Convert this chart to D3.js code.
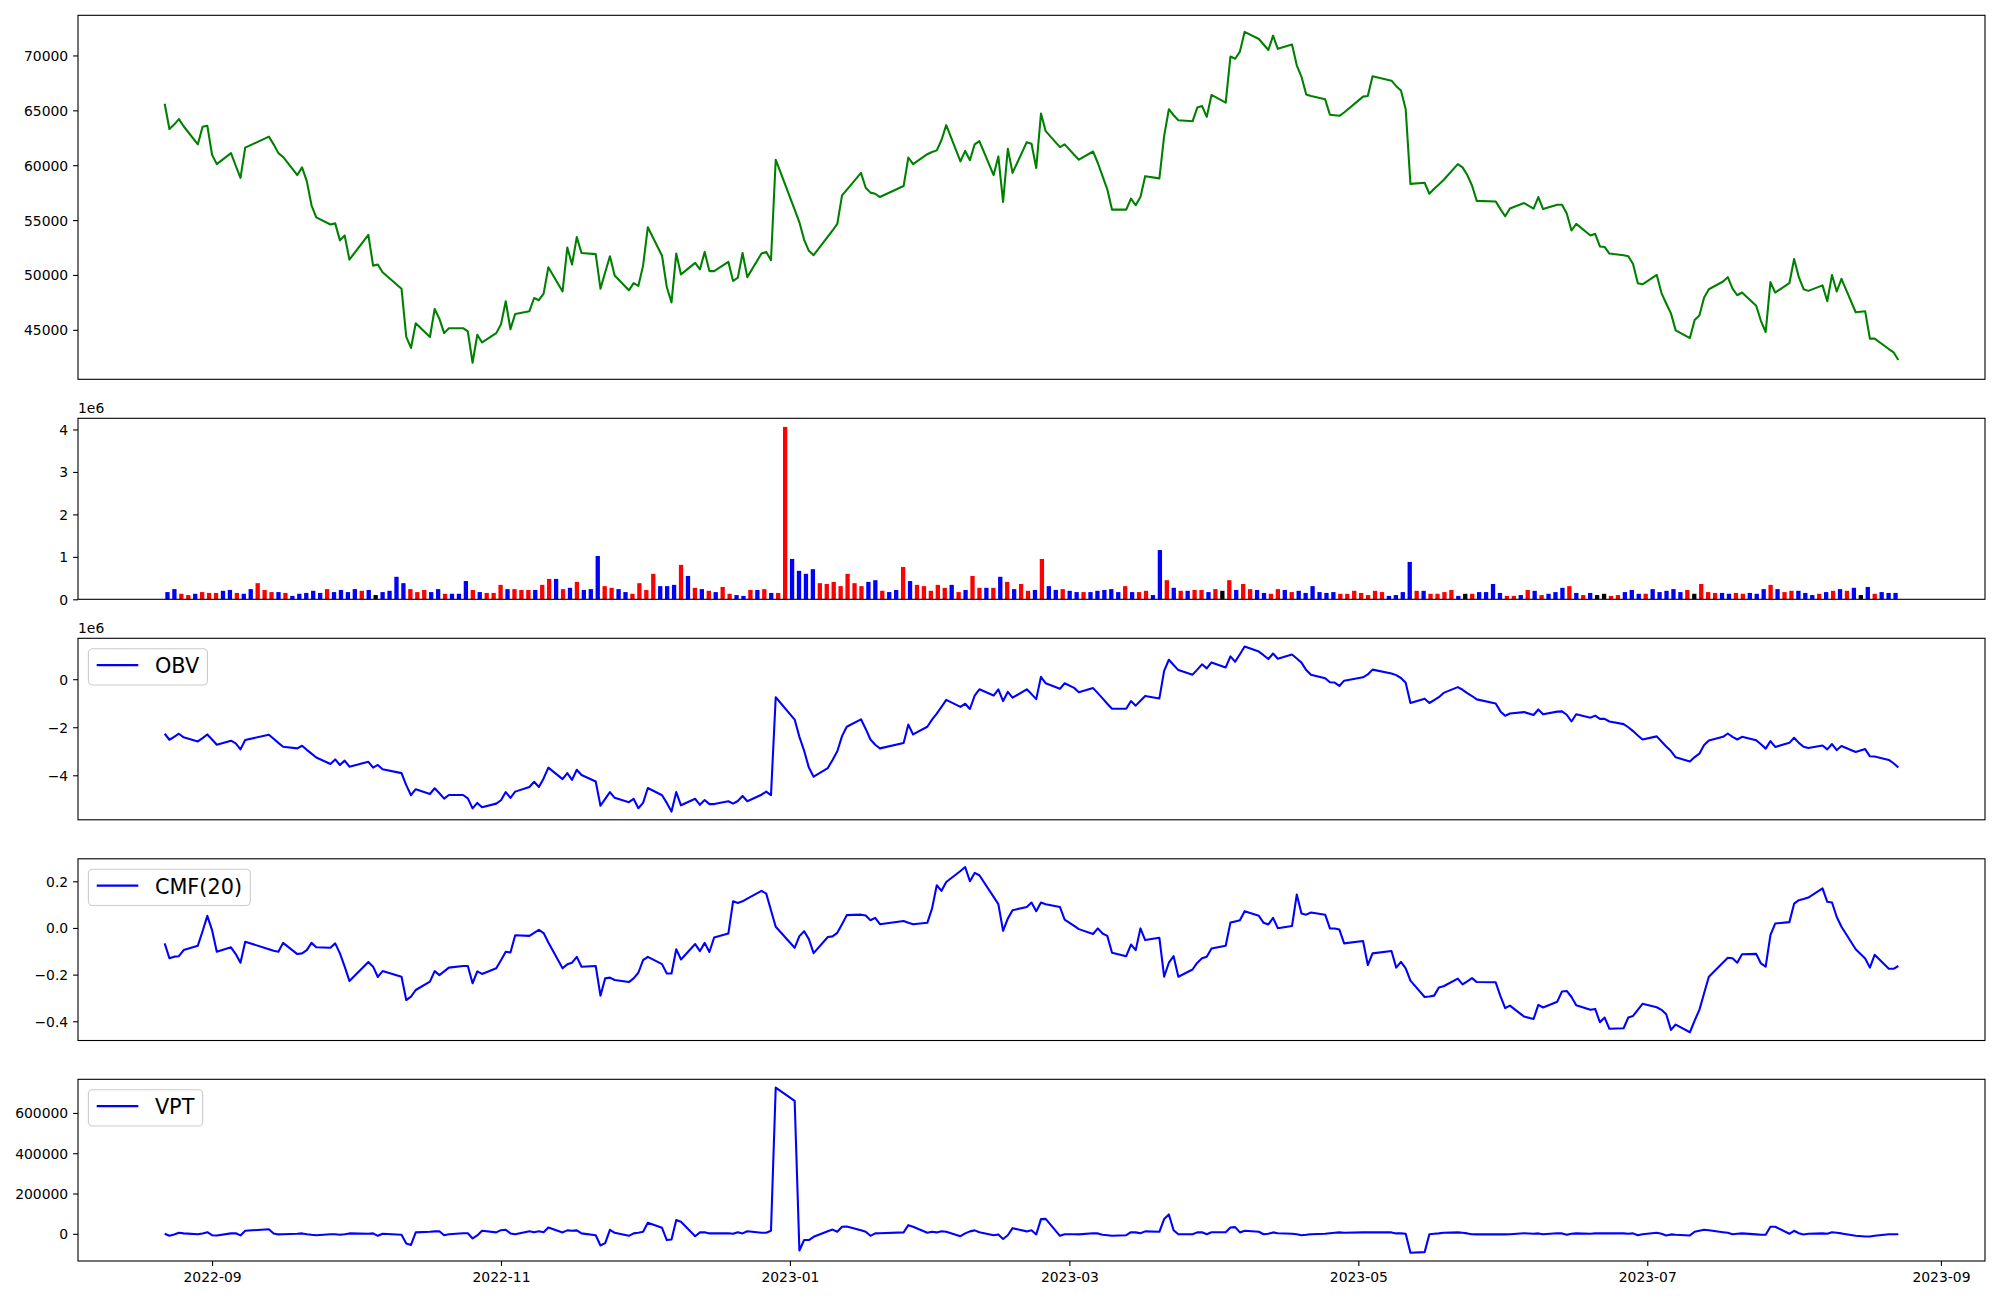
<!DOCTYPE html>
<html><head><meta charset="utf-8">
<script src="https://cdn.jsdelivr.net/npm/d3@7/dist/d3.min.js"></script>
<style>
html,body{margin:0;padding:0;background:#fff}
svg text{font-family:"DejaVu Sans",sans-serif;fill:#000}
</style>
</head><body>
<svg id="chart" width="2000" height="1300"></svg>
<script>
// ---------- DATA ----------
const tradingDays = [
 ["2022-08",[22,23,24,25,26,29,30,31]],
 ["2022-09",[1,2,5,6,7,8,13,14,15,16,19,20,21,22,23,26,27,28,29,30]],
 ["2022-10",[4,5,6,7,11,12,13,14,17,18,19,20,21,24,25,26,27,28,31]],
 ["2022-11",[1,2,3,4,7,8,9,10,11,14,15,16,17,18,21,22,23,24,25,28,29,30]],
 ["2022-12",[1,2,5,6,7,8,9,12,13,14,15,16,19,20,21,22,23,26,27,28,29]],
 ["2023-01",[2,3,4,5,6,9,10,11,12,13,16,17,18,19,20,25,26,27,30,31]],
 ["2023-02",[1,2,3,6,7,8,9,10,13,14,15,16,17,20,21,22,23,24,27,28]],
 ["2023-03",[2,3,6,7,8,9,10,13,14,15,16,17,20,21,22,23,24,27,28,29,30,31]],
 ["2023-04",[3,4,5,6,7,10,11,12,13,14,17,18,19,20,21,24,25,26,27,28]],
 ["2023-05",[2,3,4,8,9,10,11,12,15,16,17,18,19,22,23,24,25,26,30,31]],
 ["2023-06",[1,2,5,7,8,9,12,13,14,15,16,19,20,21,22,23,26,27,28,29,30]],
 ["2023-07",[3,4,5,6,7,10,11,12,13,14,17,18,19,20,21,24,25,26,27,28,31]],
 ["2023-08",[1,2,3,4,7,8,9,10,11,14,16,17,18,21,22,23]]
];

const closePrice = [
 65600,63300,63700,64200,63550,61900,63500,63600,60950,60100,
 61100,59950,58850,61600,62600,61900,61100,60750,59100,59800,
 58550,56350,55250,54600,54700,53150,53600,51400,53650,50850,
 50950,50250,48750,44350,43350,45600,44350,46900,46000,44700,
 45150,45150,44850,42000,44550,43850,44700,45500,47600,45050,
 46450,46700,47900,47700,48300,50700,48500,52500,50950,53450,
 52000,51900,48750,50250,51700,49950,48600,49250,49000,50850,
 54350,51750,48900,47500,51950,50050,51100,50500,52100,50350,
 50350,51200,49450,49750,52000,49800,51950,52100,51350,60500,
 55950,54800,53200,52200,51800,53500,54050,54650,57250,57750,
 59300,57950,57500,57400,57100,58100,60700,60100,61000,61200,
 61350,62300,63650,60350,61300,60450,61900,62200,59100,60800,
 56650,61500,59300,62100,61950,59750,64700,63100,61650,61900,
 60950,60500,61250,60200,59000,57800,55950,55950,56950,56350,
 57100,59000,58800,62650,65100,64550,64100,64000,65250,65400,
 64400,66400,65700,69900,69700,70350,72150,71500,71000,70500,
 71800,70600,71000,69100,68050,66450,66300,66000,64600,64550,
 64500,64800,66250,66300,68100,67700,67200,66800,65100,58300,
 58400,57400,57850,58250,58650,60100,59800,59100,58150,56750,
 56700,56000,55350,56050,56550,56050,57100,56000,56400,56400,
 55600,54050,54650,53600,53750,52600,52550,51950,51800,51700,
 51000,49250,49150,50000,48350,47400,46500,44950,44250,45900,
 46300,47950,48700,49400,49800,48750,48150,48400,47200,45800,
 44800,49350,48400,49250,51450,49800,48700,48550,49050,47600,
 50000,48500,49650,46600,46700,44200,44200,43250,42950,42250
];

// volume in millions of shares (axis offset 1e6)
const volumeMillions = [
 .17,.24,.13,.10,.13,.17,.15,.15,.20,.22,
 .15,.13,.24,.38,.22,.17,.17,.15,.08,.13,
 .15,.20,.15,.24,.17,.22,.17,.24,.20,.22,
 .10,.17,.20,.53,.38,.24,.17,.22,.17,.24,
 .13,.13,.13,.43,.22,.17,.15,.15,.34,.24,
 .24,.22,.22,.22,.34,.48,.48,.24,.27,.41,
 .22,.24,1.02,.31,.27,.24,.17,.13,.38,.22,
 .60,.31,.31,.34,.81,.55,.27,.24,.20,.17,
 .29,.13,.10,.08,.22,.22,.24,.15,.15,4.06,
 .95,.67,.60,.71,.38,.36,.41,.31,.60,.38,
 .31,.41,.45,.20,.17,.22,.76,.43,.34,.31,
 .20,.34,.27,.34,.17,.22,.55,.27,.27,.27,
 .53,.41,.24,.36,.20,.22,.95,.31,.22,.24,
 .20,.17,.17,.17,.20,.22,.24,.17,.31,.17,
 .17,.20,.10,1.16,.45,.27,.20,.20,.22,.22,
 .17,.24,.20,.45,.22,.36,.24,.22,.15,.13,
 .24,.22,.17,.20,.15,.31,.17,.15,.17,.13,
 .13,.20,.15,.10,.20,.17,.08,.10,.17,.88,
 .20,.20,.13,.13,.17,.22,.08,.13,.13,.17,
 .17,.36,.15,.08,.08,.10,.22,.20,.10,.13,
 .17,.27,.31,.15,.10,.15,.10,.13,.08,.10,
 .17,.22,.13,.13,.24,.17,.20,.24,.17,.22,
 .13,.36,.17,.15,.15,.13,.15,.13,.15,.13,
 .24,.34,.24,.17,.20,.20,.15,.10,.13,.17,
 .20,.24,.20,.27,.10,.29,.13,.17,.15,.15
];

// bar colour per day: r = red, b = blue, k = black
const volumeColorCodes =
 "bbrrbrrrbb"+"rbbrrrbrbb"+"bbbrbbbbrb"+"kbbbbrrrbb"+"rbbbrbrrrb"+
 "rrrbrrbrbr"+"bbbrrbbrrr"+"rbbbrbrbrb"+"rrbbrbrbrr"+"bbbbrrrrrr"+
 "rbbrbbrbrr"+"rrrbrbrrbr"+"brbrrbrbbr"+"bbrbbbbbrb"+"rrbbrbrbrr"+
 "brkrbrrbbr"+"rbrbbbbbbr"+"rrrrrrbbbb"+"rbrrrrbkrb"+"bbbrrbrbrb"+
 "bbrbrbkkrr"+"bbbrbbbbbr"+"krrrbbrrbb"+"brbrrbbbrb"+"rbrbkbrbbb";

// OBV in millions (axis offset 1e6)
const obvMillions = [
 -2.27,-2.52,-2.40,-2.27,-2.42,-2.59,-2.45,-2.30,-2.51,-2.73,
 -2.56,-2.67,-2.92,-2.53,-2.31,-2.48,-2.65,-2.81,-2.88,-2.77,
 -2.94,-3.10,-3.26,-3.53,-3.34,-3.57,-3.39,-3.64,-3.44,-3.68,
 -3.57,-3.75,-3.91,-4.41,-4.83,-4.58,-4.78,-4.54,-4.75,-4.97,
 -4.82,-4.82,-4.96,-5.38,-5.15,-5.33,-5.18,-5.04,-4.70,-4.94,
 -4.68,-4.49,-4.27,-4.49,-4.13,-3.68,-4.16,-3.91,-4.19,-3.77,
 -3.99,-4.26,-5.27,-4.98,-4.70,-4.94,-5.12,-4.98,-5.37,-5.15,
 -4.53,-4.83,-5.15,-5.51,-4.70,-5.25,-4.98,-5.23,-5.03,-5.20,
 -5.20,-5.08,-5.18,-5.07,-4.86,-5.08,-4.81,-4.68,-4.83,-0.75,
 -1.68,-2.40,-2.98,-3.68,-4.06,-3.70,-3.36,-3.00,-2.37,-1.98,
 -1.67,-2.07,-2.51,-2.73,-2.88,-2.66,-1.89,-2.30,-1.98,-1.68,
 -1.43,-1.15,-0.86,-1.15,-1.02,-1.24,-0.68,-0.42,-0.68,-0.42,
 -0.91,-0.53,-0.77,-0.42,-0.62,-0.83,0.10,-0.17,-0.40,-0.17,
 -0.36,-0.54,-0.37,-0.58,-0.80,-1.02,-1.23,-1.23,-0.91,-1.10,
 -0.90,-0.70,-0.80,0.35,0.81,0.59,0.38,0.19,0.40,0.62,
 0.45,0.70,0.49,0.95,0.73,1.04,1.36,1.15,1.00,0.84,
 1.07,0.85,1.03,0.86,0.69,0.38,0.19,0.04,-0.13,-0.14,
 -0.28,-0.06,0.08,0.20,0.40,0.24,0.17,0.05,-0.15,-0.99,
 -0.81,-0.99,-0.87,-0.75,-0.57,-0.33,-0.44,-0.58,-0.70,-0.84,
 -1.01,-1.34,-1.52,-1.43,-1.37,-1.49,-1.26,-1.46,-1.35,-1.34,
 -1.48,-1.76,-1.46,-1.60,-1.52,-1.65,-1.65,-1.76,-1.87,-2.00,
 -2.16,-2.34,-2.51,-2.38,-2.59,-2.80,-2.99,-3.25,-3.43,-3.24,
 -3.10,-2.74,-2.55,-2.40,-2.26,-2.40,-2.51,-2.40,-2.54,-2.71,
 -2.89,-2.58,-2.82,-2.65,-2.44,-2.65,-2.81,-2.86,-2.76,-2.92,
 -2.70,-2.95,-2.78,-3.03,-2.91,-3.21,-3.22,-3.36,-3.50,-3.68
];

const cmf20 = [
 -0.066,-0.130,-0.123,-0.121,-0.095,-0.076,-0.014,0.052,-0.009,-0.102,
 -0.083,-0.112,-0.149,-0.059,-0.091,-0.098,-0.102,-0.064,-0.112,-0.109,
 -0.095,-0.064,-0.083,-0.085,-0.066,-0.109,-0.166,-0.227,-0.146,-0.166,
 -0.210,-0.185,-0.209,-0.309,-0.294,-0.266,-0.230,-0.185,-0.202,-0.186,
 -0.170,-0.163,-0.163,-0.237,-0.186,-0.197,-0.173,-0.138,-0.102,-0.105,
 -0.031,-0.034,-0.021,-0.008,-0.022,-0.062,-0.173,-0.156,-0.149,-0.124,
 -0.166,-0.163,-0.290,-0.216,-0.213,-0.223,-0.232,-0.216,-0.192,-0.138,
 -0.124,-0.155,-0.195,-0.195,-0.091,-0.135,-0.069,-0.099,-0.064,-0.103,
 -0.041,-0.024,0.114,0.107,0.114,0.126,0.159,0.147,0.076,0.005,
 -0.085,-0.035,-0.014,-0.048,-0.108,-0.039,-0.036,-0.021,0.016,0.055,
 0.057,0.053,0.033,0.043,0.016,0.030,0.022,0.016,0.022,0.083,
 0.183,0.159,0.197,0.244,0.261,0.200,0.236,0.226,0.133,0.102,
 -0.012,0.040,0.076,0.090,0.109,0.072,0.109,0.102,0.090,0.036,
 0.009,-0.005,-0.026,-0.002,-0.024,-0.034,-0.106,-0.121,-0.071,-0.095,
 -0.002,-0.052,-0.042,-0.209,-0.149,-0.121,-0.209,-0.178,-0.149,-0.130,
 -0.123,-0.088,-0.076,0.023,0.028,0.033,0.072,0.052,0.022,0.015,
 0.043,-0.001,0.008,0.143,0.062,0.057,0.066,0.057,-0.002,-0.002,
 -0.007,-0.066,-0.056,-0.159,-0.109,-0.099,-0.170,-0.145,-0.173,-0.226,
 -0.296,-0.294,-0.290,-0.255,-0.250,-0.217,-0.242,-0.229,-0.215,-0.232,
 -0.233,-0.292,-0.344,-0.333,-0.380,-0.390,-0.330,-0.341,-0.316,-0.272,
 -0.270,-0.296,-0.331,-0.351,-0.347,-0.404,-0.384,-0.432,-0.430,-0.384,
 -0.377,-0.351,-0.325,-0.340,-0.351,-0.370,-0.437,-0.414,-0.447,-0.397,
 -0.351,-0.280,-0.209,-0.148,-0.128,-0.130,-0.149,-0.113,-0.111,-0.152,
 -0.166,-0.031,0.019,0.025,0.104,0.119,0.124,0.130,0.170,0.112,
 0.109,0.047,0.005,-0.091,-0.131,-0.170,-0.115,-0.175,-0.175,-0.163
];

// VPT in thousands
const vptThousands = [
 0,-10,-3,5,2,-2,2,8,-7,-8,
 2,3,-8,15,23,2,-3,-2,0,2,
 -2,-5,-7,-2,-2,-5,-2,2,0,2,
 -10,0,-5,-48,-55,7,10,12,13,-7,
 -2,3,3,-23,-8,15,7,18,20,2,
 -2,13,8,13,8,31,7,17,15,17,
 2,-7,-58,-46,20,5,-10,2,5,10,
 55,30,-31,-28,68,60,-12,7,8,2,
 2,3,0,8,2,13,5,5,15,726,
 660,-83,-31,-31,-15,13,21,10,35,36,
 18,10,-10,2,3,7,43,35,5,10,
 7,13,10,-12,2,12,17,8,-7,-3,
 -26,-7,28,12,18,-3,73,74,-10,-2,
 -2,-3,3,2,-5,-7,-10,-7,8,7,
 3,12,10,73,96,18,-2,-2,7,8,
 -2,8,8,31,33,7,15,10,-2,0,
 7,3,0,-2,-7,-5,-2,0,3,5,
 7,5,7,7,8,7,2,2,0,-94,
 -91,-2,0,2,5,7,5,2,-2,-3,
 -3,-2,-3,-2,3,0,2,-2,3,2,
 -5,0,2,0,2,2,2,2,2,0,
 2,-7,-2,5,0,-8,-3,-5,-8,10,
 15,20,18,8,5,-2,0,2,-3,-5,
 -5,35,35,0,15,3,-3,0,2,0,
 8,5,2,-10,-13,-13,-10,-2,-2,-2
];

const priceTicks = [45000,50000,55000,60000,65000,70000];
const volumeTicks = [0,1,2,3,4];
const obvTicks = [-4,-2,0];
const cmfTicks = [-0.4,-0.2,0.0,0.2];
const vptTicks = [0,200000,400000,600000];
const dateTickLabels = ["2022-09","2022-11","2023-01","2023-03","2023-05","2023-07","2023-09"];
const legendLabels = ["OBV","CMF(20)","VPT"];

// ---------- LAYOUT ----------
const L = 78, R = 1985;
const panels = [[15.3,379.3],[418.3,599.3],[638.3,819.8],[858.8,1040.5],[1079.3,1261]];
const TICK = 4.9, PAD = 4.9, FS = 13.9, LW = 2.08;
const colorMap = {r:"#ff0000", b:"#0000ff", k:"#000000"};

const dates = [];
tradingDays.forEach(([ym, days]) => {
  const [y, m] = ym.split("-").map(Number);
  days.forEach(d => dates.push(new Date(Date.UTC(y, m - 1, d))));
});
const N = dates.length;

const svg = d3.select("#chart");

const t0 = +dates[0], t1 = +dates[N - 1], span = t1 - t0;
const x = d3.scaleUtc().domain([new Date(t0 - 0.05 * span), new Date(t1 + 0.05 * span)]).range([L, R]);

function padded(vals) {
  const [a, b] = d3.extent(vals); const p = (b - a) * 0.05; return [a - p, b + p];
}
const minusFmt = s => String(s).replace("-", "\u2212");

function yAxis(scale, ticks, fmt) {
  const g = svg.append("g").attr("transform", `translate(${L},0)`)
    .call(d3.axisLeft(scale).tickValues(ticks).tickSize(TICK).tickPadding(PAD).tickFormat(fmt));
  g.select(".domain").remove();
  g.selectAll(".tick line").attr("stroke", "#000").attr("stroke-width", 1.1);
  g.selectAll(".tick text").attr("font-family", "DejaVu Sans").attr("font-size", FS).attr("dy", "0.36em").attr("fill", "#000");
  g.attr("font-family", null).attr("font-size", null);
}
function frame(p) {
  svg.append("rect").attr("x", L).attr("y", p[0]).attr("width", R - L).attr("height", p[1] - p[0])
    .attr("fill", "none").attr("stroke", "#000").attr("stroke-width", 1.1);
}
function offsetText(p) {
  svg.append("text").attr("x", L).attr("y", p[0] - 5.6).attr("font-size", FS).text("1e6");
}
function legend(p, label) {
  const fs = 20.8, bp = 8.3, hl = 41.6, htp = 16.6;
  const bx = L + 10.4, by = p[0] + 10.4;
  const g = svg.append("g");
  const rect = g.append("rect").attr("x", bx).attr("y", by).attr("height", 36.3).attr("rx", 4.2).attr("ry", 4.2)
    .attr("fill", "#fff").attr("fill-opacity", 0.8).attr("stroke", "#cccccc").attr("stroke-width", 1.1);
  g.append("line").attr("x1", bx + bp).attr("x2", bx + bp + hl).attr("y1", by + 16.4).attr("y2", by + 16.4)
    .attr("stroke", "#0000ff").attr("stroke-width", LW);
  const t = g.append("text").attr("x", bx + bp + hl + htp).attr("y", by + 24.6).attr("font-size", fs).text(label);
  const tw = t.node().getComputedTextLength();
  rect.attr("width", bp + hl + htp + tw + bp);
}
function drawLine(p, vals, scale, color) {
  const line = d3.line().x((d, i) => x(dates[i])).y(d => scale(d));
  svg.append("path").datum(vals).attr("d", line).attr("fill", "none").attr("stroke", color)
    .attr("stroke-width", LW).attr("stroke-linejoin", "round");
}

// Panel 1: price
const yP = d3.scaleLinear().domain(padded(closePrice)).range([panels[0][1], panels[0][0]]);
drawLine(panels[0], closePrice, yP, "#008000");
yAxis(yP, priceTicks, d => d);
frame(panels[0]);

// Panel 2: volume bars (by day index)
const bw = 0.62;
const xi = d3.scaleLinear()
  .domain([-0.4 - 0.05 * (N - 1 + 0.8), N - 1 + 0.4 + 0.05 * (N - 1 + 0.8)]).range([L, R]);
const yV = d3.scaleLinear().domain([0, d3.max(volumeMillions) * 1.05]).range([panels[1][1], panels[1][0]]);
svg.append("g").selectAll("rect").data(volumeMillions).join("rect")
  .attr("x", (d, i) => xi(i - bw / 2)).attr("width", xi(bw) - xi(0))
  .attr("y", d => yV(d)).attr("height", d => yV(0) - yV(d))
  .attr("fill", (d, i) => colorMap[volumeColorCodes[i]]);
yAxis(yV, volumeTicks, d => d);
frame(panels[1]);
offsetText(panels[1]);

// Panel 3: OBV
const yO = d3.scaleLinear().domain(padded(obvMillions)).range([panels[2][1], panels[2][0]]);
drawLine(panels[2], obvMillions, yO, "#0000ff");
yAxis(yO, obvTicks, d => minusFmt(d));
frame(panels[2]);
offsetText(panels[2]);
legend(panels[2], legendLabels[0]);

// Panel 4: CMF
const yC = d3.scaleLinear().domain(padded(cmf20)).range([panels[3][1], panels[3][0]]);
drawLine(panels[3], cmf20, yC, "#0000ff");
yAxis(yC, cmfTicks, d => minusFmt(d.toFixed(1)));
frame(panels[3]);
legend(panels[3], legendLabels[1]);

// Panel 5: VPT
const vpt = vptThousands.map(v => v * 1000);
const yT = d3.scaleLinear().domain(padded(vpt)).range([panels[4][1], panels[4][0]]);
drawLine(panels[4], vpt, yT, "#0000ff");
yAxis(yT, vptTicks, d => minusFmt(d));
frame(panels[4]);
legend(panels[4], legendLabels[2]);

// Date axis on the bottom panel
const dateTicks = dateTickLabels.map(s => { const [y, m] = s.split("-").map(Number); return new Date(Date.UTC(y, m - 1, 1)); });
const gx = svg.append("g").attr("transform", `translate(0,${panels[4][1]})`)
  .call(d3.axisBottom(x).tickValues(dateTicks).tickSize(TICK).tickPadding(PAD).tickFormat(d3.utcFormat("%Y-%m")));
gx.select(".domain").remove();
gx.selectAll(".tick line").attr("stroke", "#000").attr("stroke-width", 1.1);
gx.selectAll(".tick text").attr("font-family", "DejaVu Sans").attr("font-size", FS).attr("dy", "0.84em").attr("fill", "#000");
gx.attr("font-family", null).attr("font-size", null);
</script>
</body></html>
